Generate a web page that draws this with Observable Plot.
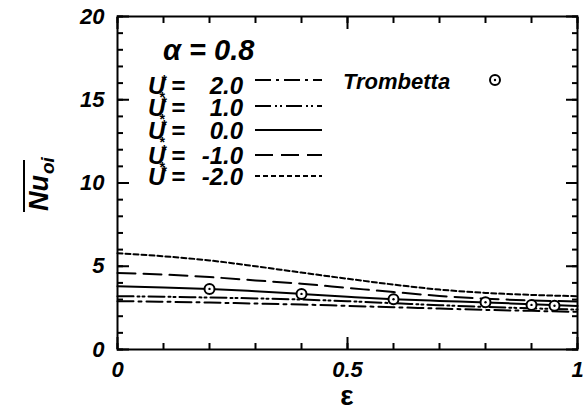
<!DOCTYPE html>
<html>
<head>
<meta charset="utf-8">
<script src="https://cdn.jsdelivr.net/npm/d3@7"></script>
<script src="https://cdn.jsdelivr.net/npm/@observablehq/plot@0.6"></script>
<style>
  html, body { margin: 0; padding: 0; background: #fff; }
  #chart svg { display: block; }
</style>
</head>
<body>
<div id="chart"></div>
<script>
// ---- data ----
const eps = [0, 0.1, 0.2, 0.3, 0.4, 0.5, 0.6, 0.7, 0.8, 0.9, 1.0];
const nuUm2 = [5.78, 5.6, 5.35, 5.0, 4.62, 4.25, 3.9, 3.6, 3.4, 3.28, 3.2];
const nuUm1 = [4.6, 4.5, 4.35, 4.15, 3.95, 3.7, 3.45, 3.22, 3.05, 2.95, 2.88];
const nuU0  = [3.8, 3.73, 3.64, 3.5, 3.34, 3.17, 3.02, 2.92, 2.83, 2.72, 2.62];
const nuU1  = [3.2, 3.17, 3.12, 3.07, 3.0, 2.9, 2.78, 2.66, 2.56, 2.47, 2.4];
const nuU2  = [2.9, 2.87, 2.82, 2.76, 2.7, 2.62, 2.54, 2.46, 2.38, 2.32, 2.26];
const tromEps = [0.2, 0.4, 0.6, 0.8, 0.9, 0.95];
const tromNu  = [3.64, 3.34, 3.02, 2.84, 2.68, 2.63];
const seriesLabels = ["2.0", "1.0", "0.0", "-1.0", "-2.0"];
const yTickLabels = [0, 5, 10, 15, 20];
const xTickLabels = [0, 0.5, 1];

const dashes = {
  "2.0": "16,5,3,5",
  "1.0": "16,4,2,3,2,4",
  "0.0": null,
  "-1.0": "18,8",
  "-2.0": "5,3"
};
const seriesData = {
  "2.0": nuU2, "1.0": nuU1, "0.0": nuU0, "-1.0": nuUm1, "-2.0": nuUm2
};
const rows = (vals) => eps.map((e, i) => ({eps: e, nu: vals[i]}));
const trom = tromEps.map((e, i) => ({eps: e, nu: tromNu[i]}));

const FONT = "'Liberation Sans', Arial, Helvetica, sans-serif";

const lineMarks = seriesLabels.map(k => Plot.line(rows(seriesData[k]), {
  x: "eps", y: "nu", curve: "monotone-x",
  stroke: "black", strokeWidth: 2,
  strokeDasharray: dashes[k] || undefined
}));

const tickStyle = {stroke: "black", strokeWidth: 2, label: null, tickFormat: () => ""};

const chart = Plot.plot({
  width: 584, height: 416,
  marginLeft: 117, marginRight: 7, marginTop: 16, marginBottom: 67,
  style: {fontFamily: FONT, background: "white", color: "black"},
  x: {domain: [0, 1]},
  y: {domain: [0, 20]},
  marks: [
    // inward ticks: minor and major on all four sides
    Plot.axisY({...tickStyle, anchor: "left", ticks: d3.range(0, 21, 1), tickSize: -6}),
    Plot.axisY({...tickStyle, anchor: "left", ticks: yTickLabels, tickSize: -12}),
    Plot.axisY({...tickStyle, anchor: "right", ticks: d3.range(0, 21, 1), tickSize: -6}),
    Plot.axisY({...tickStyle, anchor: "right", ticks: yTickLabels, tickSize: -12}),
    Plot.axisX({...tickStyle, anchor: "bottom", ticks: d3.range(0, 1.01, 0.1), tickSize: -6}),
    Plot.axisX({...tickStyle, anchor: "bottom", ticks: xTickLabels, tickSize: -12}),
    Plot.axisX({...tickStyle, anchor: "top", ticks: d3.range(0, 1.01, 0.1), tickSize: -6}),
    Plot.axisX({...tickStyle, anchor: "top", ticks: xTickLabels, tickSize: -12}),
    // tick labels
    Plot.axisY({anchor: "left", ticks: yTickLabels, tickSize: 0, tickPadding: 13, label: null,
      fontSize: 22, fontStyle: "italic", fontWeight: "bold", tickFormat: d => String(d)}),
    Plot.axisX({anchor: "bottom", ticks: xTickLabels, tickSize: 0, tickPadding: 12, label: null,
      fontSize: 22, fontStyle: "italic", fontWeight: "bold", tickFormat: d => String(d)}),
    ...lineMarks,
    Plot.dot(trom, {x: "eps", y: "nu", r: 5, stroke: "black", strokeWidth: 2, fill: "white"}),
    Plot.dot(trom, {x: "eps", y: "nu", r: 1.2, fill: "black"}),
    Plot.frame({stroke: "black", strokeWidth: 2})
  ]
});
document.getElementById("chart").appendChild(chart);

// ---- annotations: legend, axis titles ----
const svg = d3.select(chart);
const g = svg.append("g").attr("font-family", FONT).attr("fill", "black")
  .attr("text-anchor", "start").attr("font-style", "italic").attr("font-weight", "bold");

// alpha label
g.append("text").attr("x", 163).attr("y", 60)
  .attr("font-size", 29).text("α = 0.8");

const lineY = [80, 106, 130, 155, 176];
const baseY = [94, 116, 139, 164, 185];
seriesLabels.forEach((lab, i) => {
  const b = baseY[i];
  g.append("text").attr("x", 148).attr("y", b).attr("font-size", 24).text("U");
  g.append("text").attr("x", 161).attr("y", b - 9).attr("font-size", 14).text("*");
  if (i < 4) {
    g.append("text").attr("x", 159).attr("y", b + 8).attr("font-size", 14).text("*");
  }
  g.append("text").attr("x", 171).attr("y", b).attr("font-size", 24).text("=");
  g.append("text").attr("x", 243).attr("y", b).attr("text-anchor", "end")
    .attr("font-size", 24).text(lab);
  g.append("line").attr("x1", 255).attr("x2", 322).attr("y1", lineY[i]).attr("y2", lineY[i])
    .attr("stroke", "black").attr("stroke-width", 2)
    .attr("stroke-dasharray", dashes[lab]);
});

// Trombetta legend entry
g.append("text").attr("x", 343).attr("y", 89)
  .attr("font-size", 22).text("Trombetta");
g.append("circle").attr("cx", 495).attr("cy", 80).attr("r", 5)
  .attr("fill", "white").attr("stroke", "black").attr("stroke-width", 2);
g.append("circle").attr("cx", 495).attr("cy", 80).attr("r", 1.2).attr("fill", "black");

// x-axis title
g.append("text").attr("x", 347).attr("y", 405).attr("text-anchor", "middle")
  .attr("font-style", "normal").attr("font-size", 28).text("ε");

// y-axis title: Nu_oi with overline, rotated
const yt = g.append("g").attr("transform", "translate(48,211) rotate(-90)");
const ytxt = yt.append("text").attr("text-anchor", "start").attr("font-size", 27);
ytxt.append("tspan").text("Nu");
ytxt.append("tspan").attr("font-size", 19).attr("dx", 1).attr("dy", 6).text("oi");
yt.append("line").attr("x1", -1).attr("x2", 51).attr("y1", -24).attr("y2", -24)
  .attr("stroke", "black").attr("stroke-width", 2);
</script>
</body>
</html>
